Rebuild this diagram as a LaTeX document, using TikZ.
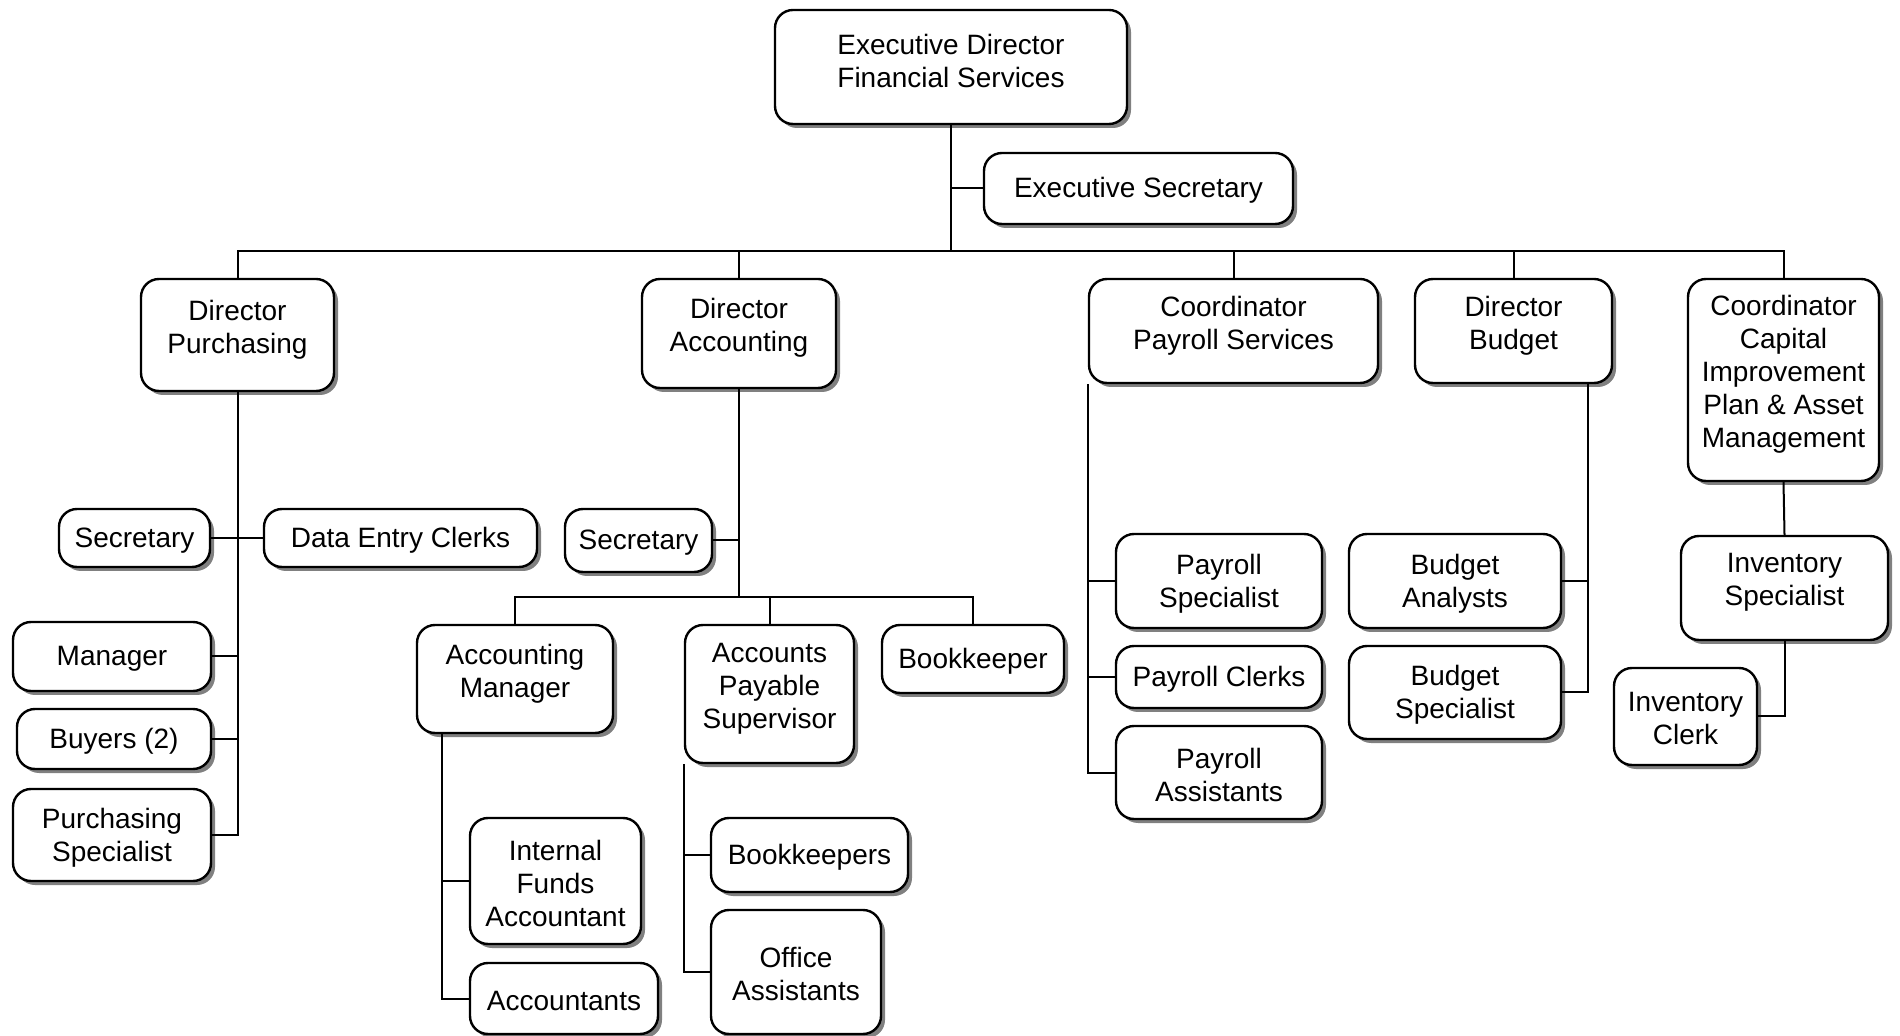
\documentclass[tikz,border=0pt]{standalone}
\usepackage{fontspec}
\setmainfont{Liberation Sans}
\usetikzlibrary{shadows,calc}
\tikzset{
  bx/.style={draw=black, line width=1.2pt, rounded corners=9pt, fill=white,
    drop shadow={shadow xshift=2pt, shadow yshift=-2pt, fill=black!50, opacity=1}},
  txt/.style={align=center, inner sep=0pt, font=\fontsize{14}{16.5}\selectfont},
  ln/.style={draw=black, line width=1pt}
}
\newcommand\orgbox[7]{%
  \pgfmathsetmacro\obw{(#4-#2)*0.5}%
  \pgfmathsetmacro\obh{(#5-#3)*0.5}%
  \node[bx, minimum width=\obw pt, minimum height=\obh pt, inner sep=0pt] (#1) at ({(#2+#4)/2},{(#3+#5)/2}) {};
  \node[txt] (#1t) at ([yshift=#6]#1.center) {#7};
}
\begin{document}
\begin{tikzpicture}[x=0.5pt,y=-0.5pt]
\useasboundingbox (0,0) rectangle (1900,1036);
\coordinate (bus) at (951,251);
\coordinate (abus) at (739,597);
\orgbox{ed}{775}{10}{1127}{124}{2.8pt}{Executive Director\\Financial Services}
\orgbox{es}{984}{153}{1293}{224}{-1pt}{Executive Secretary}
\orgbox{dp}{141}{279}{334}{391}{2.8pt}{Director\\Purchasing}
\orgbox{da}{642}{279}{836}{388}{2.8pt}{Director\\Accounting}
\orgbox{cps}{1089}{279}{1378}{383}{2.8pt}{Coordinator\\Payroll Services}
\orgbox{db}{1415}{279}{1612}{383}{2.8pt}{Director\\Budget}
\orgbox{ccap}{1688}{279}{1879}{481}{2.8pt}{Coordinator\\Capital\\Improvement\\Plan \& Asset\\Management}
\orgbox{ps}{59}{509}{210}{567}{-1.2pt}{Secretary}
\orgbox{pdec}{264}{509}{537}{567}{-1.2pt}{Data Entry Clerks}
\orgbox{pm}{13}{622}{211}{691}{-1.2pt}{Manager}
\orgbox{pb}{17}{709}{211}{769}{-1.2pt}{Buyers (2)}
\orgbox{psp}{13}{789}{211}{881}{-1.2pt}{Purchasing\\Specialist}
\orgbox{asec}{565}{509}{712}{572}{-1.2pt}{Secretary}
\orgbox{am}{417}{625}{613}{733}{2.8pt}{Accounting\\Manager}
\orgbox{aps}{685}{625}{854}{763}{2.8pt}{Accounts\\Payable\\Supervisor}
\orgbox{bk}{882}{625}{1064}{693}{-1.2pt}{Bookkeeper}
\orgbox{ifa}{470}{818}{641}{944}{-1.2pt}{Internal\\Funds\\Accountant}
\orgbox{acc}{470}{963}{658}{1034}{-1.2pt}{Accountants}
\orgbox{bks}{711}{818}{908}{892}{-1.2pt}{Bookkeepers}
\orgbox{oa}{711}{910}{881}{1034}{-1.2pt}{Office\\Assistants}
\orgbox{prs}{1116}{534}{1322}{628}{-1.2pt}{Payroll\\Specialist}
\orgbox{prc}{1116}{646}{1322}{708}{-1.2pt}{Payroll Clerks}
\orgbox{pra}{1116}{726}{1322}{819}{-1.2pt}{Payroll\\Assistants}
\orgbox{ba}{1349}{534}{1561}{628}{-1.2pt}{Budget\\Analysts}
\orgbox{bsp}{1349}{646}{1561}{739}{-1.2pt}{Budget\\Specialist}
\orgbox{is}{1681}{536}{1888}{640}{2.8pt}{Inventory\\Specialist}
\orgbox{ic}{1614}{668}{1757}{765}{-1.2pt}{Inventory\\Clerk}
% top level
\draw[ln] (ed.south) -- (bus);
\draw[ln] (es.west) -- (es.west -| ed.south);
\draw[ln] (dp.north) |- (bus) -| (ccap.north);
\draw[ln] (da.north) -- (da.north |- bus);
\draw[ln] (cps.north) -- (cps.north |- bus);
\draw[ln] (db.north) -- (db.north |- bus);
% purchasing
\draw[ln] (dp.south) |- (psp.east);
\draw[ln] (ps.east) -- (pdec.west);
\draw[ln] (pm.east) -- (pm.east -| dp.south);
\draw[ln] (pb.east) -- (pb.east -| dp.south);
% accounting
\draw[ln] (da.south) -- (abus);
\draw[ln] (asec.east) -- (asec.east -| da.south);
\draw[ln] (am.north) |- (abus) -| (bk.north);
\draw[ln] (aps.north) -- (aps.north |- abus);
\coordinate (amj) at ([xshift=13pt]am.south west);
\draw[ln] (amj) |- (acc.west);
\draw[ln] (ifa.west) -- (ifa.west -| amj);
\draw[ln] (aps.south west) |- (oa.west);
\draw[ln] (bks.west) -- (bks.west -| aps.south west);
% payroll
\draw[ln] (cps.south west) |- (pra.west);
\draw[ln] (prs.west) -- (prs.west -| cps.south west);
\draw[ln] (prc.west) -- (prc.west -| cps.south west);
% budget
\coordinate (dbj) at ([xshift=-12.5pt]db.south east);
\draw[ln] (dbj) |- (bsp.east);
\draw[ln] (ba.east) -- (ba.east -| dbj);
% capital
\draw[ln] (ccap.south) -- (is.north);
\draw[ln] (is.south) |- (ic.east);
\end{tikzpicture}
\end{document}
